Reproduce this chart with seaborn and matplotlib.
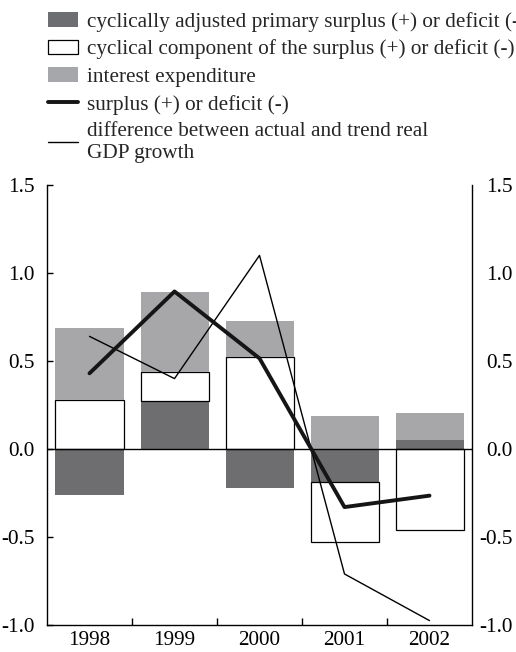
import numpy as np
import pandas as pd
import matplotlib
matplotlib.use("Agg")
import matplotlib.pyplot as plt
from matplotlib.patches import Patch
from matplotlib.lines import Line2D
from matplotlib.ticker import FixedLocator
import seaborn as sns

years = ["1998", "1999", "2000", "2001", "2002"]
ca_primary = [-0.26, 0.27, -0.22, -0.19, 0.05]
cyclical = [0.28, 0.17, 0.52, -0.34, -0.46]
interest = [0.41, 0.45, 0.21, 0.19, 0.155]
surplus = [0.43, 0.895, 0.515, -0.33, -0.265]
gdp_gap = [0.64, 0.40, 1.10, -0.71, -0.975]
yticks = [-1.0, -0.5, 0.0, 0.5, 1.0, 1.5]

labels = [
    "cyclically adjusted primary surplus (+) or deficit (-)",
    "cyclical component of the surplus (+) or deficit (-)",
    "interest expenditure",
    "surplus (+) or deficit (-)",
    "difference between actual and trend real\nGDP growth",
]

sns.set_theme(style="white")
plt.rcParams["font.family"] = ["Liberation Serif", "DejaVu Serif"]
plt.rcParams["axes.unicode_minus"] = False

DARK = "#6d6e72"
GREY = "#a6a7ab"
FS = 15.3

fig = plt.figure(figsize=(5.16, 6.52), dpi=100)
ax = fig.add_axes([47 / 516, 1 - 625 / 652, (472 - 47) / 516, (625 - 185) / 652])

layers = [
    (ca_primary, dict(color=DARK, edgecolor="none", linewidth=0)),
    (cyclical, dict(color="white", edgecolor="black", linewidth=0.9)),
    (interest, dict(color=GREY, edgecolor="none", linewidth=0)),
]
pos_base = np.zeros(len(years))
neg_base = np.zeros(len(years))
for vals, style in layers:
    vals = np.asarray(vals, dtype=float)
    bottom = np.where(vals >= 0, pos_base, neg_base)
    df = pd.DataFrame({"year": years, "value": vals})
    sns.barplot(data=df, x="year", y="value", bottom=bottom, width=0.8,
                ax=ax, zorder=2, **style)
    pos_base = pos_base + np.where(vals >= 0, vals, 0)
    neg_base = neg_base + np.where(vals < 0, vals, 0)

ax.axhline(0, color="black", linewidth=1.0, zorder=3)

xpos = np.arange(len(years))
sns.lineplot(x=xpos, y=gdp_gap, color="black", linewidth=1.0, ax=ax, zorder=4)
sns.lineplot(x=xpos, y=surplus, color="#151515", linewidth=2.8, ax=ax, zorder=5)

ax.set_xlim(-0.5, len(years) - 0.5)
ax.set_ylim(-1.0, 1.5)
ax.set_yticks(yticks)
ax.set_yticklabels([f"{v:.1f}" for v in yticks])
ax.set_xticks(xpos)
ax.set_xticklabels(years)
ax.xaxis.set_minor_locator(FixedLocator(xpos[:-1] + 0.5))
ax.set_xlabel("")
ax.set_ylabel("")

for s in ["left", "right", "bottom"]:
    ax.spines[s].set_visible(True)
    ax.spines[s].set_color("black")
    ax.spines[s].set_linewidth(1.0)
ax.spines["top"].set_visible(False)

ax.tick_params(axis="y", which="major", direction="in", length=4, width=1,
               left=True, right=True, labelleft=True, labelright=False,
               labelsize=FS, colors="black", pad=9)
ax.tick_params(axis="x", which="major", length=0, labelsize=FS, pad=4, colors="black")
ax.tick_params(axis="x", which="minor", direction="in", length=5, width=1,
               bottom=True, colors="black")

# right-hand axis labels (same scale), right-aligned
ax2 = ax.twinx()
ax2.set_ylim(ax.get_ylim())
ax2.set_yticks(yticks)
ax2.set_yticklabels([f"{v:.1f}" for v in yticks])
ax2.grid(False)
for s in ax2.spines.values():
    s.set_visible(False)
ax2.tick_params(axis="y", which="major", length=0, labelsize=FS, colors="black", pad=29)
for lab in ax2.get_yticklabels():
    lab.set_horizontalalignment("right")

handles = [
    Patch(facecolor=DARK, edgecolor="none"),
    Patch(facecolor="white", edgecolor="black", linewidth=0.9),
    Patch(facecolor=GREY, edgecolor="none"),
    Line2D([0], [0], color="#151515", linewidth=2.8),
    Line2D([0], [0], color="black", linewidth=1.0),
]
leg = fig.legend(handles, labels, loc="upper left", bbox_to_anchor=(48 / 516, 1 - 12 / 652),
                 frameon=False, fontsize=FS, handlelength=1.4, handleheight=0.7,
                 handletextpad=0.45, labelspacing=0.36, borderaxespad=0, borderpad=0)
for t in leg.get_texts():
    t.set_linespacing(1.2)

fig.savefig("out.png", dpi=100)
